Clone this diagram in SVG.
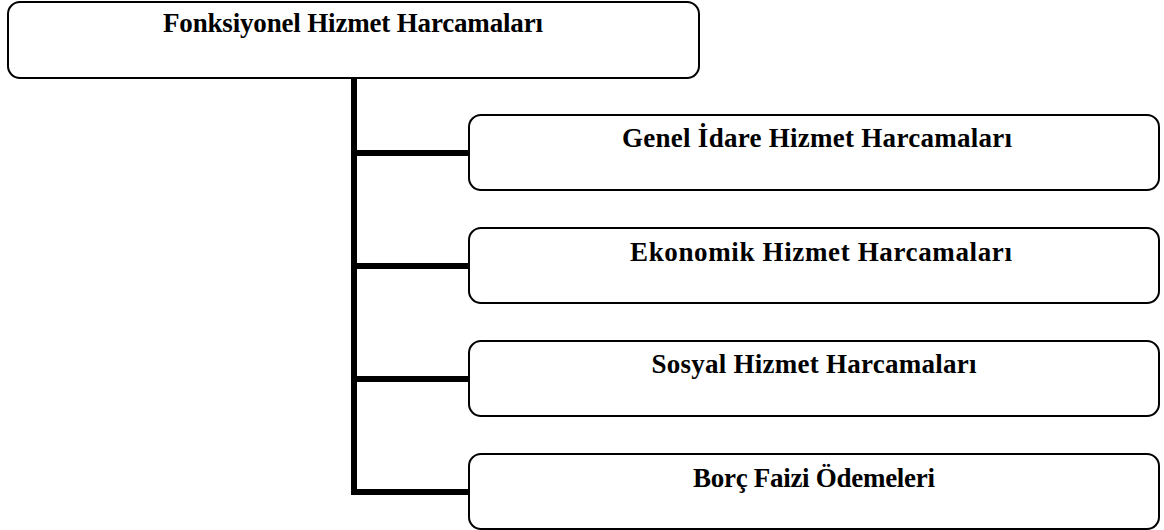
<svg xmlns="http://www.w3.org/2000/svg" width="1164" height="530" viewBox="0 0 1164 530">
<style>
.box{fill:#fff;stroke:#000;stroke-width:2}
.lbl{font-family:"Liberation Serif","Times New Roman",serif;font-weight:bold;font-size:27px;fill:#000;text-anchor:middle}
.conn{fill:none;stroke:#000;stroke-width:6;stroke-linejoin:miter;stroke-linecap:butt}
</style>
<rect width="1164" height="530" fill="#fff"/>
<g id="connectors">
<path class="conn" d="M354 78 V492 H469"/>
<path class="conn" d="M354 153 H469"/>
<path class="conn" d="M354 266 H469"/>
<path class="conn" d="M354 379 H469"/>
</g>
<g id="root">
<rect class="box" x="8" y="2" width="691" height="76" rx="12"/>
<text class="lbl" x="353" y="32" textLength="380" lengthAdjust="spacing">Fonksiyonel Hizmet Harcamaları</text>
</g>
<g id="genel">
<rect class="box" x="469" y="115" width="690" height="75" rx="12"/>
<text class="lbl" x="817" y="147" textLength="390" lengthAdjust="spacing">Genel İdare Hizmet Harcamaları</text>
</g>
<g id="ekonomik">
<rect class="box" x="469" y="228" width="690" height="75" rx="12"/>
<text class="lbl" x="821" y="261" textLength="382" lengthAdjust="spacing">Ekonomik Hizmet Harcamaları</text>
</g>
<g id="sosyal">
<rect class="box" x="469" y="341" width="690" height="75" rx="12"/>
<text class="lbl" x="814" y="373" textLength="325" lengthAdjust="spacing">Sosyal Hizmet Harcamaları</text>
</g>
<g id="borc">
<rect class="box" x="469" y="454" width="690" height="75" rx="12"/>
<text class="lbl" x="814" y="487" textLength="242" lengthAdjust="spacing">Borç Faizi Ödemeleri</text>
</g>
</svg>
